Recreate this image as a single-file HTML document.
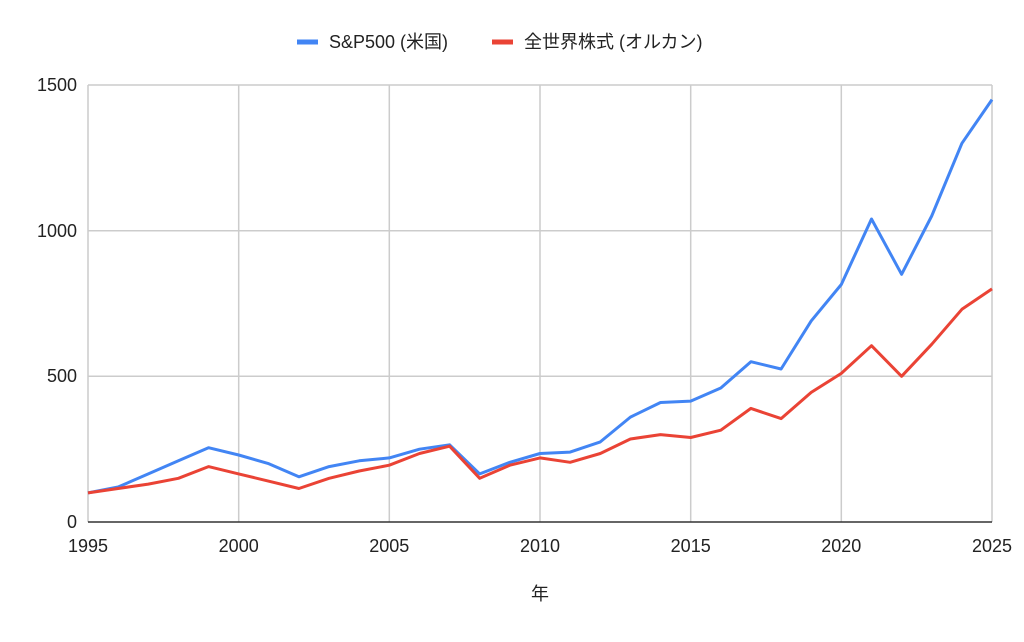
<!DOCTYPE html>
<html><head><meta charset="utf-8"><style>
html,body{margin:0;padding:0;background:#fff;}
svg text{font-family:"Liberation Sans","Noto Sans CJK JP",sans-serif;fill:#222;}
</style></head><body>
<svg width="1024" height="637" xmlns="http://www.w3.org/2000/svg">
<g stroke="#cccccc" stroke-width="1.5">
<line x1="88" y1="85" x2="992" y2="85"/>
<line x1="88" y1="230.7" x2="992" y2="230.7"/>
<line x1="88" y1="376.3" x2="992" y2="376.3"/>
<line x1="238.7" y1="85" x2="238.7" y2="522"/>
<line x1="389.3" y1="85" x2="389.3" y2="522"/>
<line x1="540" y1="85" x2="540" y2="522"/>
<line x1="690.7" y1="85" x2="690.7" y2="522"/>
<line x1="841.3" y1="85" x2="841.3" y2="522"/>
<line x1="992" y1="85" x2="992" y2="522"/>
<line x1="88" y1="85" x2="88" y2="522"/>
</g>
<line x1="88" y1="522" x2="992" y2="522" stroke="#333" stroke-width="1.5"/>
<g font-size="18" text-anchor="end">
<text x="77" y="91">1500</text>
<text x="77" y="237">1000</text>
<text x="77" y="382">500</text>
<text x="77" y="528">0</text>
</g>
<g font-size="18" text-anchor="middle">
<text x="88" y="552">1995</text>
<text x="238.7" y="552">2000</text>
<text x="389.3" y="552">2005</text>
<text x="540" y="552">2010</text>
<text x="690.7" y="552">2015</text>
<text x="841.3" y="552">2020</text>
<text x="992" y="552">2025</text>
<text x="540" y="600">年</text>
</g>
<line x1="297" y1="42" x2="318" y2="42" stroke="#4285f4" stroke-width="5"/>
<text x="329" y="48" font-size="18">S&amp;P500 (米国)</text>
<line x1="492" y1="42" x2="513" y2="42" stroke="#ea4335" stroke-width="5"/>
<text x="524" y="48" font-size="18">全世界株式 (オルカン)</text>
<polyline fill="none" stroke="#4285f4" stroke-width="3" stroke-linejoin="round" points="
88,492.9 118.1,487 148.3,473.9 178.4,460.8 208.5,447.7 238.7,455 268.8,463.7 298.9,476.8 329.1,466.6 359.2,460.8 389.3,457.9 419.5,449.2 449.6,444.8 479.7,473.9 509.9,462.3 540,453.5 570.1,452.1 600.3,441.9 630.4,417.1 660.5,402.5 690.7,401.1 720.8,388 750.9,361.7 781.1,369 811.2,320.9 841.3,284.5 871.5,219 901.6,274.3 931.7,216 961.9,143.3 992,99.6"/>
<polyline fill="none" stroke="#ea4335" stroke-width="3" stroke-linejoin="round" points="
88,492.9 118.1,488.5 148.3,484.1 178.4,478.3 208.5,466.6 238.7,473.9 268.8,481.2 298.9,488.5 329.1,478.3 359.2,471 389.3,465.2 419.5,453.5 449.6,446.2 479.7,478.3 509.9,465.2 540,457.9 570.1,462.3 600.3,453.5 630.4,439 660.5,434.6 690.7,437.5 720.8,430.2 750.9,408.4 781.1,418.6 811.2,392.4 841.3,373.4 871.5,345.7 901.6,376.3 931.7,344.3 961.9,309.3 992,288.9"/>
</svg>
</body></html>
